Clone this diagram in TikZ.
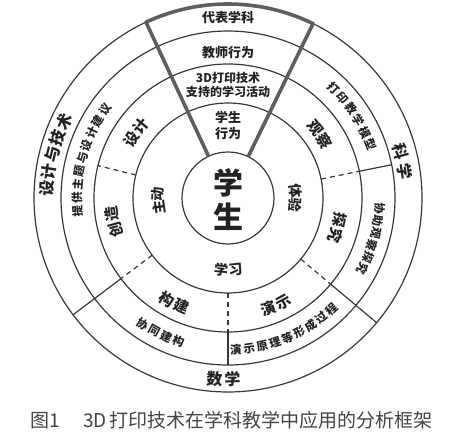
\documentclass[tikz,border=0pt]{standalone}
\usepackage{xcolor}
\usepackage{fontspec}
\setmainfont{Noto Sans CJK SC}
\usepackage{tikz}
\usetikzlibrary{positioning}
\definecolor{ink}{HTML}{222222}
\definecolor{rim}{HTML}{5E5E5E}
\tikzset{
  every picture/.style = {
    x = 1pt,
    y = 1pt,
    line width = 1.2pt,
  }
  ,
  ring/.style = {
    draw = ink!90
  }
  ,
  split/.style = {
    draw = ink!90
  }
  ,
  split-dash/.style = {
    draw = ink!90,
    dash pattern = on 5pt off 4pt
  }
  ,
  wedge/.style = {
    draw = rim,
    line width = 3.6pt,
    line join = round
  }
  ,
  core/.style = {
    align = center,
    text = ink,
    font = \bfseries\fontsize{30}{34}\selectfont
  }
  , % labels inside the top sector
  label-top/.style = {
    align = center,
    text = ink,
    inner sep = 0pt,
    font = \bfseries\fontsize{13}{16}\selectfont
  }
  , % labels of the rings
  label-in/.style = {
    text = ink,
    inner sep = 0pt,
    font = \bfseries\fontsize{14}{14}\selectfont
  }
  ,
  label-mid/.style = {
    text = ink,
    inner sep = 0pt,
    font = \bfseries\fontsize{15}{15}\selectfont
  }
  ,
  label-arc/.style = {
    text = ink,
    inner sep = 0pt,
    font = \bfseries\fontsize{11.5}{11.5}\selectfont
  }
  ,
  label-out/.style = {
    text = ink,
    inner sep = 0pt,
    font = \bfseries\fontsize{16}{16}\selectfont
  }
  ,
  caption/.style = {
    text = ink!85,
    inner sep = 0pt,
    font = \fontsize{19}{19}\selectfont
  }
}
% one character per node along a circle: style, name, radius, first angle, step, chars
\newcommand{\cwtext}[6]{%
  \foreach \ch [count=\i from 0] in {#6}
    \node[#1, rotate={#4-\i*#5-90}] (#2-\i) at ({#4-\i*#5}:#3) {\ch};
}
\newcommand{\ccwtext}[6]{%
  \foreach \ch [count=\i from 0] in {#6}
    \node[#1, rotate={#4+\i*#5+90}] (#2-\i) at ({#4+\i*#5}:#3) {\ch};
}

\begin{document}
\begin{tikzpicture}
\useasboundingbox (-228,-241) rectangle (229,198);

% rings
\foreach \r in {46,95,134,167,194}
  \draw[ring] (0,0) circle[radius=\r];

% dividers
\draw[split-dash] (11.5:95) -- (11.5:134);
\draw[split] (11.5:134) -- (11.5:167);
\draw[split-dash] (166:95) -- (166:134);
\draw[split-dash] (217:95) -- (217:134);
\draw[split] (217:134) -- (217:194);
\draw[split-dash] (-40:95) -- (-40:134);
\draw[split] (-40:134) -- (-40:194);
\draw[split-dash] (-90:95) -- (-90:134);
\draw[split] (-90:134) -- (-90:167);

% top sector
\draw[wedge] (64:46) -- (64:194) arc[start angle=64, end angle=115, radius=194] -- (115:46);

\node[core] (core) at (0,-2) {学\\生};

\node[label-top] (subject) at (90:180) {代表学科};
\node[label-top] (teacher) at (90:145) {教师行为};
\node[label-top, font=\bfseries\fontsize{12}{14}\selectfont] (activity) at (90:113) {3D打印技术\\支持的学习活动};
\node[label-top] (student) at (90:73) {学生\\行为};

% inner ring
\cwtext{label-in}{active}{70}{188}{11.5}{主,动}
\cwtext{label-in}{feel}{68}{6}{11.5}{体,验}
\ccwtext{label-in}{learn}{72}{-95.5}{11.5}{学,习}

% middle ring
\cwtext{label-mid}{design}{113}{148.5}{8}{设,计}
\cwtext{label-mid}{create}{117}{196}{8}{创,造}
\cwtext{label-mid}{observe}{112}{38.4}{8}{观,察}
\cwtext{label-mid}{explore}{114}{-11.3}{8}{探,究}
\ccwtext{label-mid}{construct}{118}{-121}{8}{构,建}
\ccwtext{label-mid}{present}{118}{-70}{8}{演,示}

% ring of supports
\cwtext{label-arc}{offer}{151}{185}{5.1}{提,供,主,题,与,设,计,建,议}
\cwtext{label-arc}{model}{152}{46}{5.1}{打,印,教,学,模,型}
\cwtext{label-arc}{assist}{152}{-3.8}{4.8}{协,助,观,察,探,究}
\ccwtext{label-arc}{cobuild}{152}{-124}{5}{协,同,建,构}
\ccwtext{label-arc}{demo}{152}{-87}{5}{演,示,原,理,等,形,成,过,程}

% subjects
\cwtext{label-out}{tech}{181}{177}{5.5}{设,计,与,技,术}
\cwtext{label-out}{sci}{179}{15.1}{6.5}{科,学}
\ccwtext{label-out}{math}{181}{-94}{5.4}{数,学}

\node[caption, anchor=west] (caption) at (-198,-222) {图1\hspace{23pt}3D\hspace{3pt}打印技术在学科教学中应用的分析框架};
\end{tikzpicture}
\end{document}
